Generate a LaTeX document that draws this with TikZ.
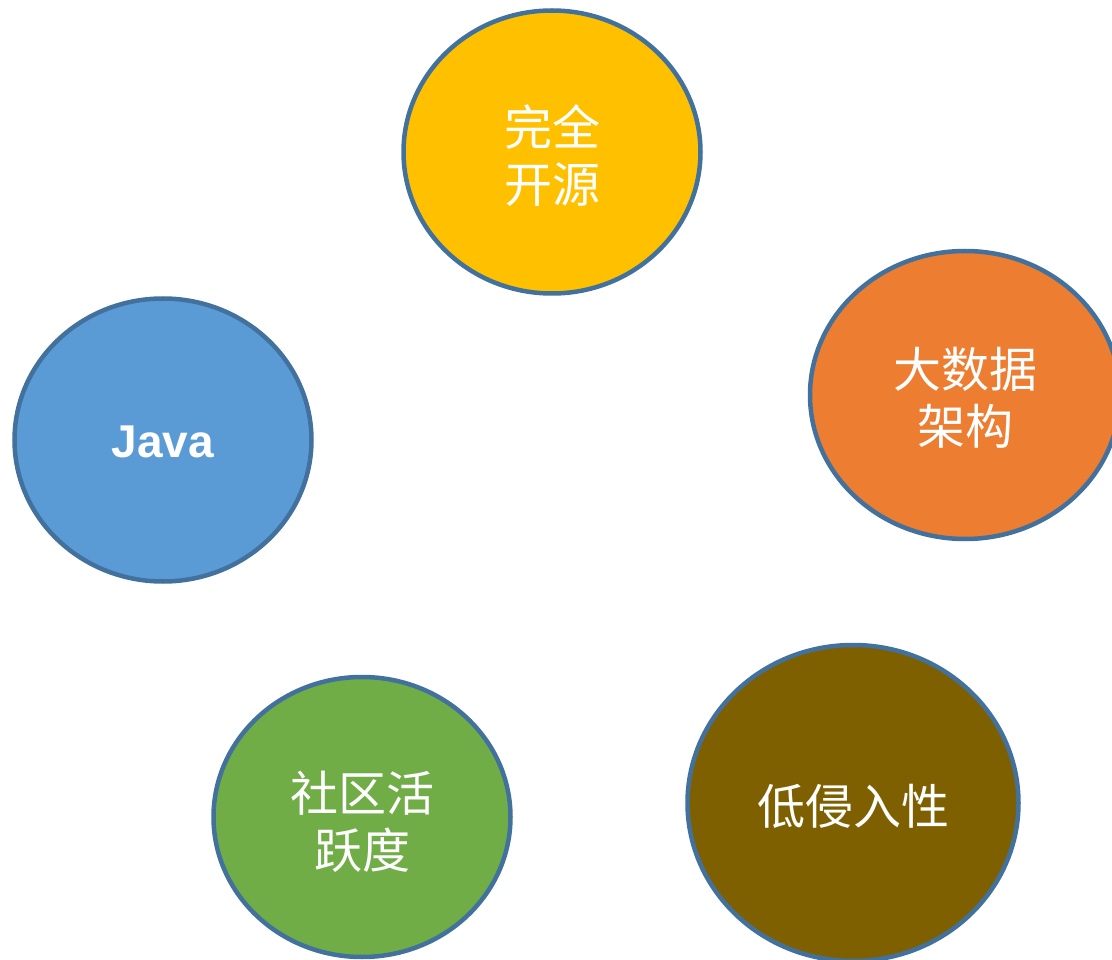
\documentclass[tikz,border=0pt]{standalone}
\usepackage{fontspec}
\setmainfont{Liberation Sans}
\newfontfamily\cjk{Noto Sans CJK SC}
\usetikzlibrary{shapes.geometric}
\definecolor{edgeblue}{HTML}{41719C}
\definecolor{cyellow}{HTML}{FFC000}
\definecolor{corange}{HTML}{ED7D31}
\definecolor{cblue}{HTML}{5B9BD5}
\definecolor{cgreen}{HTML}{70AD47}
\definecolor{cbrown}{HTML}{7F6000}
\tikzset{
  bubble/.style={ellipse, draw=edgeblue, line width=4.5pt, inner sep=0pt,
    text=white, align=center,
    font=\cjk\fontsize{48}{57}\selectfont},
  lbl/.style={text=white, align=center, inner sep=0pt,
    font=\cjk\fontsize{48}{57}\selectfont},
}
\begin{document}
\begin{tikzpicture}[x=1pt,y=-1pt]
\useasboundingbox (0,0) rectangle (1112,960);
\clip (0,0) rectangle (1112,960);
\node[bubble, fill=cyellow, minimum width=297pt, minimum height=283pt] (open) at (552,152) {};
\node[lbl] (openlbl) at (552,156) {完全\\开源};
\node[bubble, fill=corange, minimum width=310pt, minimum height=288pt] (bigdata) at (965,395) {};
\node[lbl] (bigdatalbl) at (965,398) {大数据\\架构};
\node[bubble, fill=cblue, minimum width=297pt, minimum height=283pt] (java) at (163,440) {};
\node[lbl, font=\bfseries\fontsize{46}{57}\selectfont] (javalbl) at (163,442) {Java};
\node[bubble, fill=cgreen, minimum width=297pt, minimum height=280pt] (community) at (362,817) {};
\node[lbl] (communitylbl) at (362,822) {社区活\\跃度};
\node[bubble, fill=cbrown, minimum width=331pt, minimum height=316pt] (lowinv) at (853,803) {};
\node[lbl] (lowinvlbl) at (853,806) {低侵入性};
\end{tikzpicture}
\end{document}
